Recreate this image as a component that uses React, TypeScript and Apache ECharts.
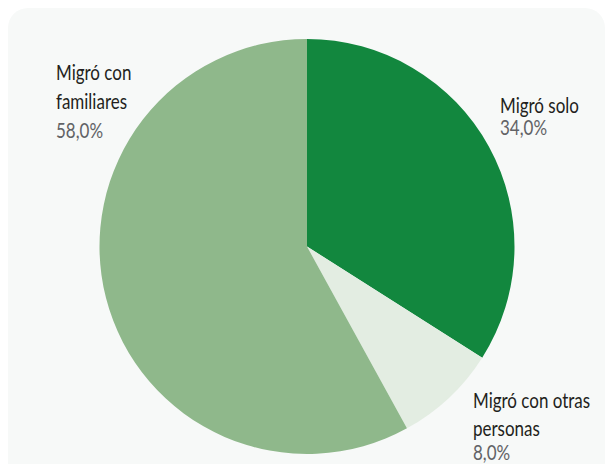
import React, { useEffect, useRef } from "react";
import * as echarts from "echarts";

const categories: string[] = ["Migró solo", "Migró con otras\npersonas", "Migró con\nfamiliares"];
const values: number[] = [34.0, 8.0, 58.0];
const colors: string[] = ["#12873e", "#e3ede2", "#8fb88b"];

const FONT = "Lato, 'Noto Sans', sans-serif";
const SCALE_X = 0.79;
const FONT_SIZE = 21.5;

// label anchor (top-left) and line heights (name lines / value line) per slice
const labelPos: { x: number; y: number; lh: number; vlh: number }[] = [
  { x: 500, y: 94, lh: 22, vlh: 22 },
  { x: 473, y: 386, lh: 27.5, vlh: 22 },
  { x: 56, y: 57, lh: 29, vlh: 29 },
];

const fmt = (v: number) => v.toFixed(1).replace(".", ",") + "%";

export default function App() {
  const ref = useRef<HTMLDivElement>(null);
  useEffect(() => {
    if (!ref.current) return;
    const chart = echarts.init(ref.current, undefined, { renderer: "svg" });
    const data = categories.map((name, i) => ({
      name,
      value: values[i],
      itemStyle: { color: colors[i] },
    }));
    const total = values.reduce((a, b) => a + b, 0);
    const labels = categories.map((name, i) => ({
      type: "text",
      x: labelPos[i].x,
      y: labelPos[i].y,
      scaleX: SCALE_X,
      z: 10,
      style: {
        text:
          name
            .split("\n")
            .map((s) => `{n|${s}}`)
            .join("\n") + `\n{v|${fmt((values[i] / total) * 100)}}`,
        align: "left",
        verticalAlign: "top",
        rich: {
          n: { fontFamily: FONT, fontSize: FONT_SIZE, fill: "#231f20", lineHeight: labelPos[i].lh },
          v: { fontFamily: FONT, fontSize: FONT_SIZE, fill: "#626366", lineHeight: labelPos[i].vlh, fontWeight: "normal" },
        },
      },
    }));
    chart.setOption({
      animation: false,
      backgroundColor: "transparent",
      graphic: labels,
      series: [
        {
          type: "pie",
          center: [307, 246.5],
          radius: 207.5,
          startAngle: 90,
          clockwise: true,
          avoidLabelOverlap: false,
          itemStyle: { borderWidth: 0 },
          emphasis: { disabled: true },
          label: { show: false },
          labelLine: { show: false },
          data,
        },
      ],
    });
    return () => chart.dispose();
  }, []);
  return (
    <div style={{ position: "fixed", left: 0, top: 0, width: 607, height: 464, overflow: "hidden", background: "#ffffff" }}>
      <div
        style={{
          position: "absolute",
          left: 8,
          top: 8,
          width: 597,
          height: 490,
          borderRadius: 20,
          background: "#f7f9f8",
        }}
      />
      <div ref={ref} style={{ position: "absolute", left: 0, top: 0, width: 607, height: 464 }} />
    </div>
  );
}
